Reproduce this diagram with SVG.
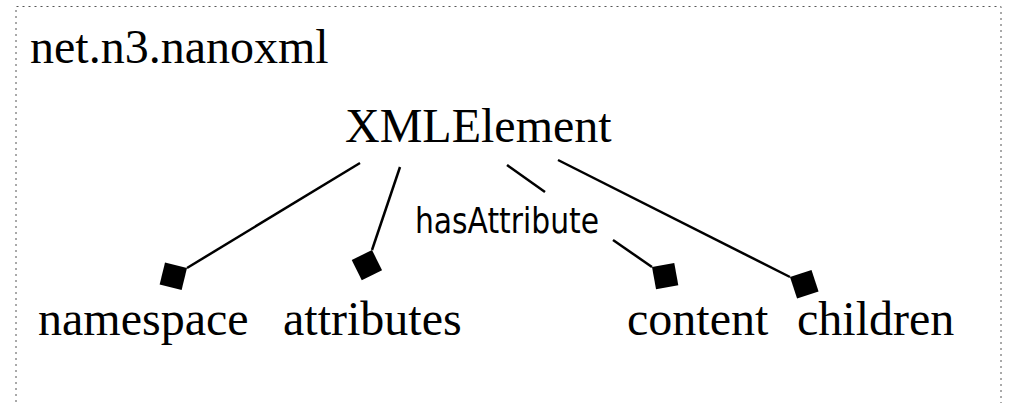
<svg xmlns="http://www.w3.org/2000/svg" width="1009" height="403" viewBox="0 0 1009 403">
  <style>
    .lbl { font-family: "Liberation Serif", "Times New Roman", serif; font-size: 48px; fill: #000; }
    .edge { fill: none; stroke: #000; stroke-width: 2.5; }
    .elbl { font-family: "DejaVu Sans", sans-serif; font-stretch: condensed; font-size: 35px; fill: #000; }
    .frame { fill: none; stroke: #555; stroke-width: 1; stroke-dasharray: 2 4; }
  </style>
  <defs>
    <marker id="dia" markerUnits="userSpaceOnUse" markerWidth="34" markerHeight="34" viewBox="-1 -17 34 34" refX="0" refY="0" orient="auto">
      <path d="M0,0 L16,-16 L32,0 L16,16 Z" fill="#000"/>
    </marker>
  </defs>
  <rect width="1009" height="403" fill="#fff"/>
  <g id="package">
    <path class="frame" d="M16,420 L16,6.5 L1001,6.5 L1001,420"/>
    <text class="lbl" x="30" y="63">net.n3.nanoxml</text>
  </g>
  <g id="XMLElement"><text class="lbl" x="345" y="142">XMLElement</text></g>
  <g id="namespace"><text class="lbl" x="38" y="335">namespace</text></g>
  <g id="attributes"><text class="lbl" x="283" y="335">attributes</text></g>
  <g id="content"><text class="lbl" x="627" y="335">content</text></g>
  <g id="children"><text class="lbl" x="797" y="335">children</text></g>
  <g id="connectors">
    <path class="edge" d="M360,163 L187,268" marker-end="url(#dia)"/>
    <path class="edge" d="M400,167 L372,250" marker-end="url(#dia)"/>
    <path class="edge" d="M507,165 L545,192"/>
    <path class="edge" d="M613,240 L652,267" marker-end="url(#dia)"/>
    <path class="edge" d="M558,160 L790,277" marker-end="url(#dia)"/>
    <text class="elbl" x="415" y="233" textLength="184" lengthAdjust="spacingAndGlyphs">hasAttribute</text>
  </g>
</svg>
